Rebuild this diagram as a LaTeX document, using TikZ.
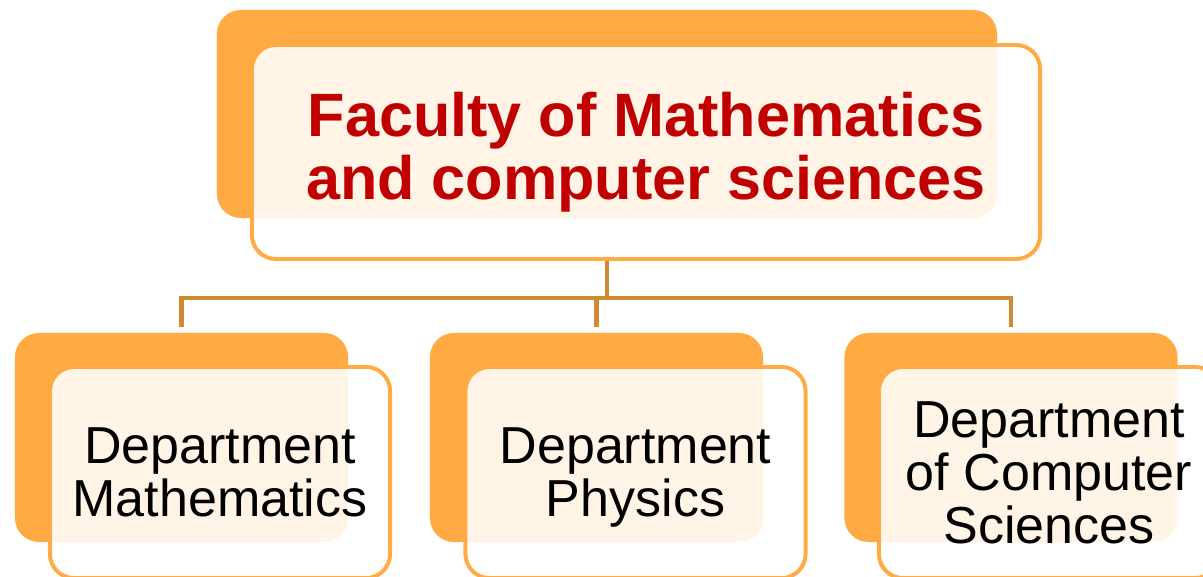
\documentclass[tikz,border=0pt]{standalone}
\usepackage{fontspec}
\setmainfont{Liberation Sans}
\definecolor{boxorange}{HTML}{FFAA43}
\definecolor{linkbrown}{HTML}{D08A33}
\definecolor{titlered}{HTML}{C00000}
\begin{document}
\begin{tikzpicture}[x=0.025cm, y=-0.025cm,
    backbox/.style={fill=boxorange, rounded corners=0.6cm, inner sep=0pt},
    frontbox/.style={draw=boxorange, line width=2.8pt, fill=white, fill opacity=0.87,
      text opacity=1, rounded corners=0.6cm, align=center, inner sep=0pt},
    dept/.style={frontbox, minimum width=8.5cm, minimum height=5.275cm,
      font=\fontsize{37}{37.7}\selectfont},
    link/.style={draw=linkbrown, line width=3.5pt}]
  \useasboundingbox (0,0) rectangle (1203,577);
  % faculty
  \node[backbox, minimum width=19.5cm, minimum height=5.2cm] (facB) at (607,114) {};
  \node[frontbox, minimum width=19.7cm, minimum height=5.35cm, text=titlered,
    font=\bfseries\fontsize{43.5}{45}\selectfont] (fac) at (646,152)
    {Faculty of Mathematics\\and computer sciences};
  % departments
  \node[backbox, minimum width=8.325cm, minimum height=5.225cm] (mathB) at (181.5,437.5) {};
  \node[dept] (math) at (220,472.5) {Department\\Mathematics};
  \node[backbox, minimum width=8.325cm, minimum height=5.225cm] (physB) at (596.5,437.5) {};
  \node[dept] (phys) at (635.5,472.5) {Department\\\smash{Physics}};
  \node[backbox, minimum width=8.325cm, minimum height=5.225cm] (csB) at (1011,437.5) {};
  \node[dept] (cs) at (1049,472.5) {Department\\of Computer\\Sciences};
  % connectors
  \coordinate (hub) at (607,298);
  \draw[link] (fac.south -| hub) -- (hub);
  \draw[link, shorten <=0.15cm] (mathB.north) |- (hub) -| ([yshift=0.15cm]csB.north);
  \draw[link, shorten <=0.15cm] (physB.north) -- (physB.north |- hub);
\end{tikzpicture}
\end{document}
